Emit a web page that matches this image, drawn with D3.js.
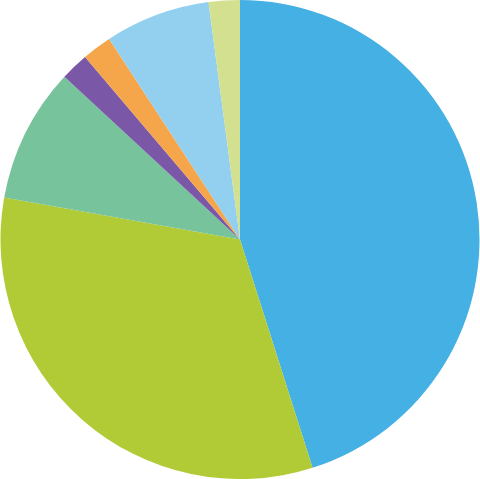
<!DOCTYPE html>
<html>
<head>
<meta charset="utf-8">
<script src="https://cdn.jsdelivr.net/npm/d3@7"></script>
<style>
  html, body { margin: 0; padding: 0; background: #fff; }
  svg { display: block; }
</style>
</head>
<body>
<svg id="chart" width="480" height="479"></svg>
<script>
// slices clockwise from 12 o'clock, values in percent
const categories = ["A", "B", "C", "D", "E", "F", "G"];
const values = [45.1, 32.7, 9.1, 1.9, 2.0, 7.1, 2.1];
const colors = ["#45b0e3", "#b1cb36", "#77c39b", "#7b57a8", "#f5a64a", "#93d0f0", "#d3e08f"];

const width = 480, height = 479;
const radius = 239.5;

const svg = d3.select("#chart");
const g = svg.append("g")
  .attr("transform", `translate(${width / 2},${height / 2})`);

const pie = d3.pie().sort(null).value(d => d.value);
const arc = d3.arc().innerRadius(0).outerRadius(radius);

const data = categories.map((c, i) => ({ name: c, value: values[i], color: colors[i] }));

g.selectAll("path")
  .data(pie(data))
  .join("path")
  .attr("d", arc)
  .attr("fill", d => d.data.color);
</script>
</body>
</html>
